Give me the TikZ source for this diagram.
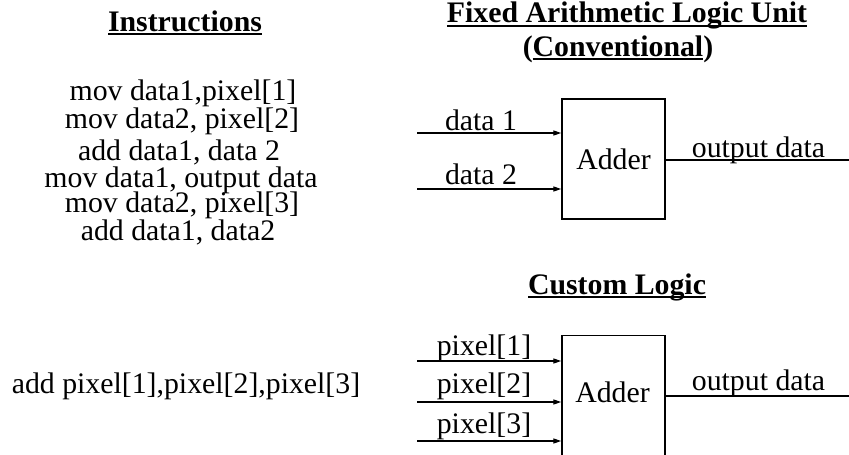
\documentclass[tikz,border=0pt]{standalone}
\usepackage{fontspec}
\setmainfont{Liberation Serif}
\usetikzlibrary{arrows.meta}

% underlined heading text with a rule at a fixed depth below the baseline
\newlength\headulw
\newcommand\headul[1]{\settowidth\headulw{#1}\rlap{\rule[-3.6pt]{\headulw}{1.6pt}}#1}

\begin{document}
\begin{tikzpicture}[x=1pt,y=-1pt,
  every node/.style={font=\fontsize{29.8pt}{30pt}\selectfont},
  txt/.style={inner sep=0pt,anchor=base},
  head/.style={txt,font=\fontsize{29.8pt}{30pt}\selectfont\bfseries},
  unitbox/.style={draw,line width=1.4pt,inner sep=0pt,minimum width=103pt},
  wire/.style={line width=1.3pt},
  inwire/.style={wire,-{Triangle[length=8pt,width=5pt]}}]

\useasboundingbox (0,0) rectangle (849,455);
\clip (0,0) rectangle (849,455);

% ---- headings ----
\node[head] (hInstr) at (185,31) {\headul{Instructions}};
\node[head] (hFixed) at (627,23) {\headul{Fixed Arithmetic Logic Unit}};
\node[head] (hConv)  at (618,56) {(\headul{Conventional})};
\node[head] (hCustom) at (617,294) {\headul{Custom Logic}};

% ---- instruction listing ----
\node[txt] (l1) at (183,100) {mov data1,pixel[1]};
\node[txt] (l2) at (182,128) {mov data2, pixel[2]};
\node[txt] (l3) at (179,160) {add data1, data 2};
\node[txt] (l4) at (181,187) {mov data1, output data};
\node[txt] (l5) at (182,212) {mov data2, pixel[3]};
\node[txt] (l6) at (178,240) {add data1, data2};

\node[txt] (lc) at (186,393) {add pixel[1],pixel[2],pixel[3]};

% ---- fixed ALU ----
\node[unitbox,minimum height=120pt] (add1) at (613.5,159) {Adder};
\coordinate (d1) at (417,133);
\coordinate (d2) at (417,189);
\draw[inwire] (d1) -- (d1 -| add1.west);
\draw[inwire] (d2) -- (d2 -| add1.west);
\node[txt] (ld1) at (481,130) {data 1};
\node[txt] (ld2) at (481,184) {data 2};
\coordinate (o1) at (849,160);
\draw[wire] (o1 -| add1.east) -- (o1);
\node[txt] (lo1) at (758.5,157) {output data};

% ---- custom logic ----
\node[unitbox,minimum height=140pt,anchor=north] (add2) at (613.5,335) {};
\node[txt] (la2) at (612.5,402) {Adder};
\coordinate (p1) at (417,361);
\coordinate (p2) at (417,402);
\coordinate (p3) at (417,441);
\draw[inwire] (p1) -- (p1 -| add2.west);
\draw[inwire] (p2) -- (p2 -| add2.west);
\draw[inwire] (p3) -- (p3 -| add2.west);
\node[txt] (lp1) at (484,355) {pixel[1]};
\node[txt] (lp2) at (484,393) {pixel[2]};
\node[txt] (lp3) at (484,433) {pixel[3]};
\coordinate (o2) at (849,396);
\draw[wire] (o2 -| add2.east) -- (o2);
\node[txt] (lo2) at (758.5,390) {output data};
\end{tikzpicture}
\end{document}
